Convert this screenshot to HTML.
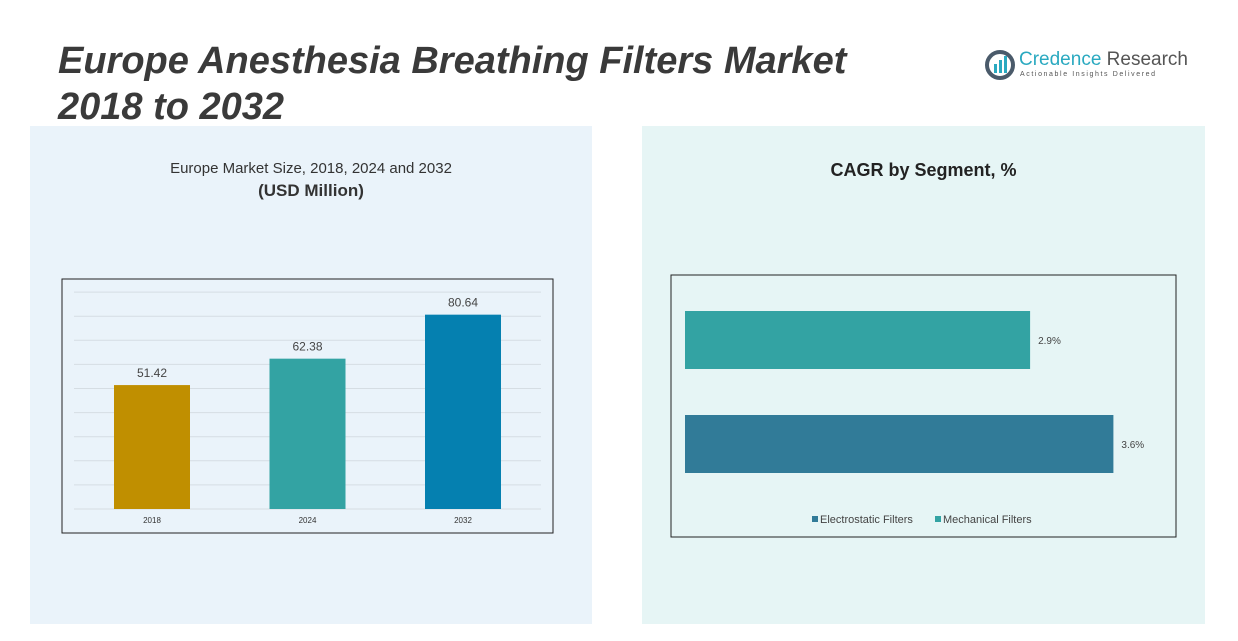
<!DOCTYPE html>
<html><head><meta charset="utf-8"><style>
body{margin:0;width:1238px;height:641px;background:#fff;font-family:"Liberation Sans",sans-serif;overflow:hidden;position:relative}
.abs{position:absolute}
</style></head><body>
<div class="abs" style="left:58px;top:38px;font-size:38px;font-weight:bold;font-style:italic;color:#3a3a3a;line-height:46px">Europe Anesthesia Breathing Filters Market<br>2018 to 2032</div>
<div class="abs" style="left:985px;top:48px;width:200px;height:34px">
<svg width="30" height="30" style="position:absolute;left:0;top:2px"><circle cx="15" cy="15" r="13" fill="none" stroke="#4a5a6a" stroke-width="4"/><rect x="9" y="14" width="3" height="9" fill="#2aa9c0"/><rect x="14" y="10" width="3" height="13" fill="#2aa9c0"/><rect x="19" y="6" width="3" height="17" fill="#2aa9c0"/></svg>
<div class="abs" style="left:34px;top:1px;font-size:19px;color:#2aa9c0;white-space:nowrap">Credence <span style="color:#555">Research</span></div>
<div class="abs" style="left:35px;top:23px;font-size:7px;letter-spacing:1.6px;color:#555;white-space:nowrap">Actionable Insights Delivered</div></div>
<div class="abs" style="left:30px;top:126px;width:562px;height:498px;background:#eaf3fa"></div>
<div class="abs" style="left:642px;top:126px;width:563px;height:498px;background:#e6f5f5"></div>
<div class="abs" style="left:30px;top:158px;width:562px;text-align:center;font-size:15px;color:#333;line-height:22px">Europe Market Size, 2018, 2024 and 2032<br><b style="font-size:17px">(USD Million)</b></div>
<div class="abs" style="left:642px;top:160px;width:563px;text-align:center;font-size:18px;font-weight:bold;color:#222">CAGR by Segment, %</div>
<svg class="abs" style="left:0;top:0" width="1238" height="641" id="svg"></svg>
<script>
const years=["2018","2024","2032"];
const values=[51.42,62.38,80.64];
const barColors=["#c08f00","#33a3a3","#0580b0"];
const segments=["Mechanical Filters","Electrostatic Filters"];
const cagr=[2.9,3.6];
const segColors=["#33a3a3","#317b98"];
const gridTicks=[0,10,20,30,40,50,60,70,80,90];
const NS="http://www.w3.org/2000/svg";
const svg=document.getElementById('svg');
function mk(t,a,txt){const e=document.createElementNS(NS,t);for(const k in a)e.setAttribute(k,a[k]);if(txt!==undefined)e.textContent=txt;svg.appendChild(e);return e;}
const y=v=>509-v*2.41;
const xc=i=>152+i*155.5;
let f=mk('rect',{x:62,y:279,width:491,height:254,fill:'none',stroke:'#222','stroke-width':1});

gridTicks.forEach(t=>{const g=mk('line',{x1:74,x2:541,y1:y(t),y2:y(t),stroke:'#d5dde3','stroke-width':1});
});
values.forEach((v,i)=>{const b=mk('rect',{x:xc(i)-38,y:y(v),width:76,height:509-y(v),fill:barColors[i]});

const l=mk('text',{x:xc(i),y:y(v)-8,'text-anchor':'middle','font-size':12,fill:'#444'},v.toFixed(2));

const xl=mk('text',{x:xc(i),y:523,'text-anchor':'middle','font-size':8,fill:'#333'},years[i]);
});
let f2=mk('rect',{x:671,y:275,width:505,height:262,fill:'none',stroke:'#222','stroke-width':1});

const xs=v=>685+v*119;
cagr.forEach((v,i)=>{const yy=311+i*104;
const b=mk('rect',{x:685,y:yy,width:xs(v)-685,height:58,fill:segColors[i]});

const l=mk('text',{x:xs(v)+8,y:yy+33,'font-size':10,fill:'#444'},v+'%');
});
const leg=[[1],[0]];let lx=812;
leg.forEach(([i])=>{const r=mk('rect',{x:lx,y:516,width:6,height:6,fill:segColors[i]});

const t=mk('text',{x:lx+8,y:523,'font-size':11,fill:'#444'},segments[i]);

lx+=i==1?123:0;});
</script>
</body></html>
